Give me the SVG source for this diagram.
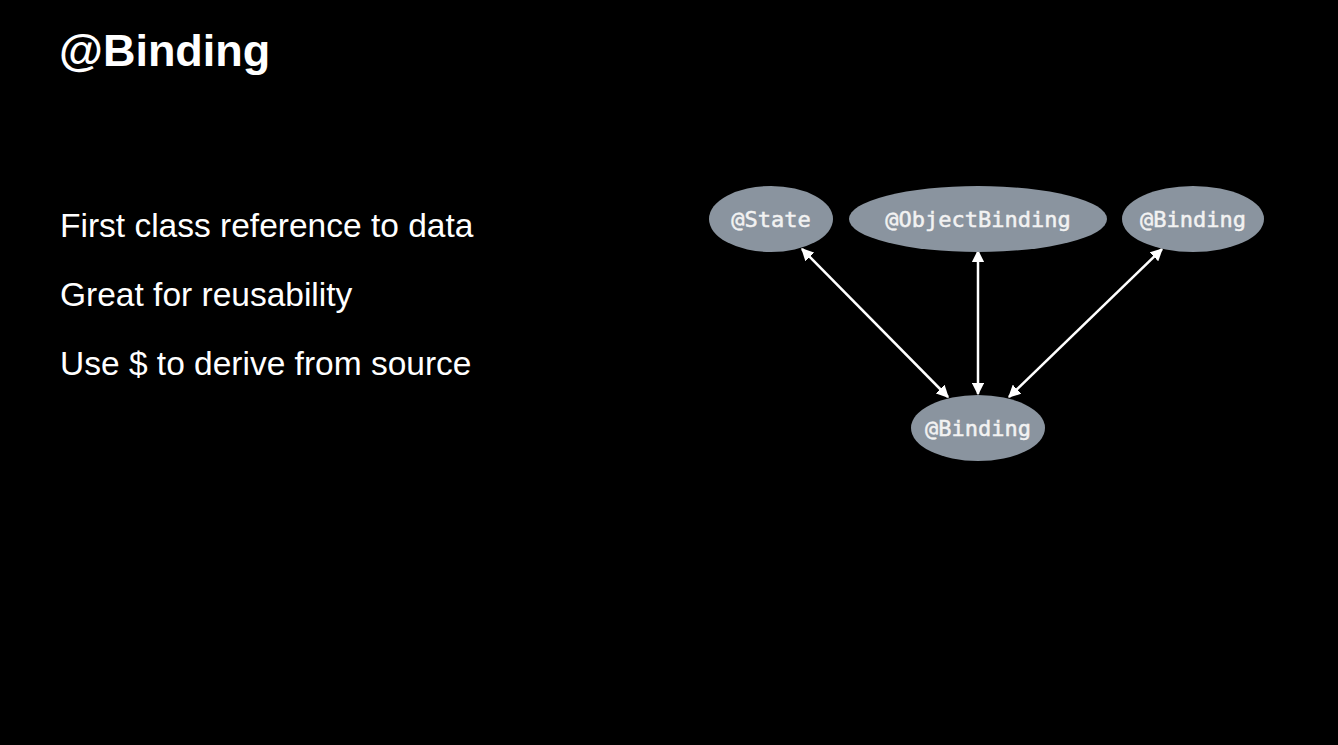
<svg xmlns="http://www.w3.org/2000/svg" width="1338" height="745" viewBox="0 0 1338 745">
<defs>
<style>
.node{fill:#8a949f}
.lbl{font-family:"DejaVu Sans Mono","Liberation Mono",monospace;font-size:22px;fill:#f2f2f2;text-anchor:middle;stroke:#f2f2f2;stroke-width:0.5}
.txt{font-family:"Liberation Sans",Arial,sans-serif;fill:#ffffff}
.edge{stroke:#ffffff;stroke-width:2.5;fill:none;marker-start:url(#ah);marker-end:url(#ah)}
</style>
<marker id="ah" viewBox="0 0 10 10" refX="9" refY="5" markerWidth="5" markerHeight="5" orient="auto-start-reverse" markerUnits="strokeWidth">
<path d="M0,0 L10,5 L0,10 z" fill="#ffffff"/>
</marker>
</defs>
<rect width="1338" height="745" fill="#000000"/>
<text class="txt" x="59" y="66" font-size="45" font-weight="bold">@Binding</text>
<text class="txt" x="60" y="237" font-size="33.5">First class reference to data</text>
<text class="txt" x="60" y="306" font-size="33.5">Great for reusability</text>
<text class="txt" x="60" y="375" font-size="33.5">Use $ to derive from source</text>
<g id="connectors">
<line class="edge" x1="802" y1="249" x2="948" y2="397"/>
<line class="edge" x1="978" y1="251" x2="978" y2="394"/>
<line class="edge" x1="1162" y1="249" x2="1009" y2="397"/>
</g>
<g id="state"><ellipse class="node" cx="771" cy="219" rx="62" ry="33"/><text class="lbl" x="771" y="227">@State</text></g>
<g id="objectbinding"><ellipse class="node" cx="978" cy="219" rx="129" ry="33"/><text class="lbl" x="978" y="227">@ObjectBinding</text></g>
<g id="binding-top"><ellipse class="node" cx="1193" cy="219" rx="71" ry="33"/><text class="lbl" x="1193" y="227">@Binding</text></g>
<g id="binding-bottom"><ellipse class="node" cx="978" cy="428" rx="67" ry="33"/><text class="lbl" x="978" y="436">@Binding</text></g>
</svg>
